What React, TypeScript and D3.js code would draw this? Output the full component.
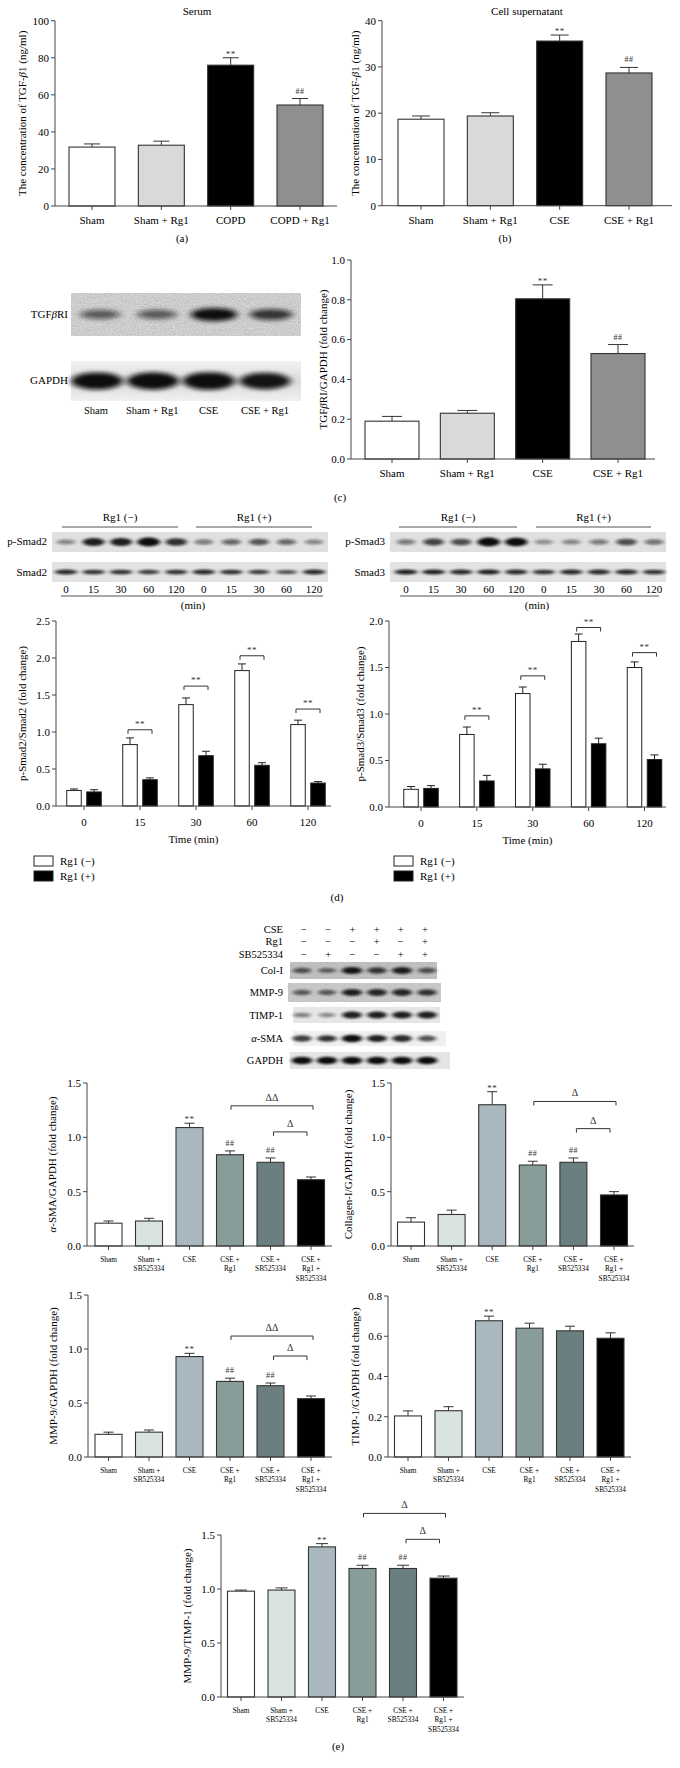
import React from "react";
import * as d3 from "d3";

const FONT = "'Liberation Serif','Times New Roman',Times,serif";
const INK = "#333";

// ---------- Panel (a) Serum ----------
const groupsA = ["Sham", "Sham + Rg1", "COPD", "COPD + Rg1"];
const serumMean = [31.8, 32.8, 76.0, 54.5];
const serumSem = [1.7, 2.2, 4.0, 3.5];
const serumMarks = ["", "", "**", "##"];
const ticksA = [0, 20, 40, 60, 80, 100];

// ---------- Panel (b) Cell supernatant ----------
const groupsB = ["Sham", "Sham + Rg1", "CSE", "CSE + Rg1"];
const supMean = [18.7, 19.4, 35.6, 28.7];
const supSem = [0.7, 0.7, 1.3, 1.2];
const supMarks = ["", "", "**", "##"];
const ticksB = [0, 10, 20, 30, 40];

// ---------- Panel (c) TGFbRI ----------
const groupsC = ["Sham", "Sham + Rg1", "CSE", "CSE + Rg1"];
const tgfMean = [0.19, 0.23, 0.805, 0.53];
const tgfSem = [0.024, 0.014, 0.07, 0.045];
const tgfMarks = ["", "", "**", "##"];
const ticksC = [0, 0.2, 0.4, 0.6, 0.8, 1.0];
const tgfBand = [0.5, 0.5, 1.0, 0.72];
const gapdhBandC = [0.95, 0.97, 1.0, 0.9];

// ---------- Panel (d) ----------
const times = ["0", "15", "30", "60", "120"];
const smad2Minus = [0.21, 0.83, 1.37, 1.83, 1.1];
const smad2MinusSem = [0.02, 0.09, 0.09, 0.09, 0.06];
const smad2Plus = [0.19, 0.355, 0.68, 0.55, 0.31];
const smad2PlusSem = [0.03, 0.025, 0.06, 0.035, 0.02];
const smad2Brackets = [null, 1.03, 1.62, 2.03, 1.31];
const ticksD2 = [0, 0.5, 1.0, 1.5, 2.0, 2.5];
const smad3Minus = [0.19, 0.78, 1.22, 1.78, 1.5];
const smad3MinusSem = [0.03, 0.08, 0.07, 0.08, 0.06];
const smad3Plus = [0.2, 0.28, 0.41, 0.68, 0.51];
const smad3PlusSem = [0.03, 0.06, 0.05, 0.06, 0.05];
const smad3Brackets = [null, 0.98, 1.41, 1.93, 1.66];
const ticksD3 = [0, 0.5, 1.0, 1.5, 2.0];
const laneTimes = ["0", "15", "30", "60", "120", "0", "15", "30", "60", "120"];
const pSmad2Band = [0.3, 0.85, 0.85, 1.0, 0.75, 0.35, 0.45, 0.55, 0.45, 0.3];
const smad2Band = [0.8, 0.75, 0.75, 0.7, 0.75, 0.8, 0.75, 0.7, 0.6, 0.8];
const pSmad3Band = [0.35, 0.65, 0.6, 1.0, 0.95, 0.25, 0.3, 0.35, 0.6, 0.4];
const smad3Band = [0.85, 0.85, 0.8, 0.85, 0.8, 0.75, 0.8, 0.8, 0.8, 0.75];
const legendD = ["Rg1 (\u2212)", "Rg1 (+)"];

// ---------- Panel (e) ----------
const groupsE = [
  ["Sham"],
  ["Sham +", "SB525334"],
  ["CSE"],
  ["CSE +", "Rg1"],
  ["CSE +", "SB525334"],
  ["CSE +", "Rg1 +", "SB525334"],
];
const headerRows = ["CSE", "Rg1", "SB525334"];
const headerSigns = [
  ["\u2212", "\u2212", "+", "+", "+", "+"],
  ["\u2212", "\u2212", "\u2212", "+", "\u2212", "+"],
  ["\u2212", "+", "\u2212", "\u2212", "+", "+"],
];
const blotRowsE = ["Col-I", "MMP-9", "TIMP-1", "\u03b1-SMA", "GAPDH"];
const colIBand = [0.55, 0.45, 0.9, 0.7, 0.85, 0.55];
const mmp9Band = [0.5, 0.5, 0.85, 0.8, 0.8, 0.72];
const timp1Band = [0.35, 0.3, 0.85, 0.85, 0.85, 0.85];
const smaBand = [0.7, 0.75, 0.95, 0.85, 0.8, 0.6];
const gapdhBandE = [0.95, 0.95, 0.95, 0.95, 0.95, 0.95];

const smaMean = [0.21, 0.23, 1.09, 0.84, 0.77, 0.61];
const smaSem = [0.02, 0.025, 0.04, 0.035, 0.04, 0.025];
const smaMarks = ["", "", "**", "##", "##", ""];
const smaBrackets = [
  { from: 3, to: 5, level: 1.29, label: "\u0394\u0394" },
  { from: 4, to: 5, level: 1.05, label: "\u0394" },
];
const colMean = [0.22, 0.29, 1.3, 0.745, 0.77, 0.47];
const colSem = [0.04, 0.04, 0.12, 0.035, 0.04, 0.03];
const colMarks = ["", "", "**", "##", "##", ""];
const colBrackets = [
  { from: 3, to: 5, level: 1.33, label: "\u0394" },
  { from: 4, to: 5, level: 1.08, label: "\u0394" },
];
const mmp9Mean = [0.21, 0.23, 0.93, 0.7, 0.66, 0.54];
const mmp9Sem = [0.02, 0.02, 0.03, 0.03, 0.025, 0.025];
const mmp9Marks = ["", "", "**", "##", "##", ""];
const mmp9Brackets = [
  { from: 3, to: 5, level: 1.12, label: "\u0394\u0394" },
  { from: 4, to: 5, level: 0.935, label: "\u0394" },
];
const timpMean = [0.204, 0.23, 0.677, 0.64, 0.627, 0.59];
const timpSem = [0.025, 0.02, 0.023, 0.025, 0.023, 0.027];
const timpMarks = ["", "", "**", "", "", ""];
const ratioMean = [0.98, 0.99, 1.39, 1.19, 1.19, 1.1];
const ratioSem = [0.01, 0.02, 0.03, 0.03, 0.03, 0.02];
const ratioMarks = ["", "", "**", "##", "##", ""];
const ratioBrackets = [
  { from: 3, to: 5, level: 1.7, label: "\u0394" },
  { from: 4, to: 5, level: 1.46, label: "\u0394" },
];
const ticksE15 = [0, 0.5, 1.0, 1.5];
const ticksE08 = [0, 0.2, 0.4, 0.6, 0.8];

const colorsABC = ["#ffffff", "#d9d9d9", "#000000", "#8f8f8f"];
const colorsE = ["#ffffff", "#d9e3e2", "#a9b8be", "#889c9a", "#6b7f81", "#000000"];

const fmt1 = d3.format(".1f");

function Mark({ x, y, m }: { x: number; y: number; m: string }) {
  if (!m) return null;
  const star = m.includes("*");
  return (
    <text x={x} y={star ? y - 1 : y - 5} textAnchor="middle" fontSize={star ? 9 : 8} fill="#333" letterSpacing={0.5}>
      {m}
    </text>
  );
}

function BarPanel({ c }: { c: any }) {
  const n = c.means.length;
  const y = d3.scaleLinear().domain([0, c.yMax]).range([c.yBot, c.yTop]);
  const x = d3.scalePoint<number>().domain(d3.range(n)).range([c.c0, c.c1]);
  const fmt = c.fmt || ((v: number) => String(v));
  const midY = (c.yBot + c.yTop) / 2;
  return (
    <g>
      {c.title && (
        <text x={c.titleX} y={c.titleY} textAnchor="middle" fontSize={11}>
          {c.title}
        </text>
      )}
      <text transform={`translate(${c.yLabelX},${midY}) rotate(-90)`} textAnchor="middle" fontSize={11} dy="0.35em">
        {c.yLabel}
      </text>
      {c.means.map((m: number, i: number) => {
        const cx = x(i)!;
        const top = y(m);
        const et = y(m + c.sems[i]);
        return (
          <g key={i}>
            <line x1={cx} x2={cx} y1={top} y2={et} stroke={INK} strokeWidth={1} />
            <line x1={cx - c.capW / 2} x2={cx + c.capW / 2} y1={et} y2={et} stroke={INK} strokeWidth={1} />
            <rect x={cx - c.bw / 2} y={top} width={c.bw} height={c.yBot - top} fill={c.colors[i]} stroke={INK} strokeWidth={1.1} />
            <Mark x={cx} y={et} m={c.marks[i]} />
          </g>
        );
      })}
      {(c.brackets || []).map((b: any, k: number) => {
        const short = b.to - b.from === 1;
        const xa = x(b.from)! + (short ? 3 : 1);
        const xb = x(b.to)! + (short ? -4 : 2);
        const yy = y(b.level);
        return (
          <g key={"b" + k}>
            <path d={`M${xa},${yy + 4}V${yy}H${xb}V${yy + 4}`} fill="none" stroke={INK} strokeWidth={1} />
            <text x={(xa + xb) / 2} y={yy - 5} textAnchor="middle" fontSize={10} fill="#333">
              {b.label}
            </text>
          </g>
        );
      })}
      {/* axes */}
      <line x1={c.x0} x2={c.x0} y1={c.yBot} y2={c.yTop} stroke="#444" strokeWidth={1} />
      <line x1={c.x0} x2={c.x1} y1={c.yBot} y2={c.yBot} stroke="#444" strokeWidth={1} />
      {c.ticks.map((t: number) => (
        <g key={t}>
          <line x1={c.x0 - 4} x2={c.x0} y1={y(t)} y2={y(t)} stroke="#444" strokeWidth={1} />
          <text x={c.x0 - 6} y={y(t)} dy="0.35em" textAnchor="end" fontSize={11}>
            {fmt(t)}
          </text>
        </g>
      ))}
      {c.labels.map((ls: string[], i: number) => (
        <g key={"l" + i}>
          <line x1={x(i)} x2={x(i)} y1={c.yBot} y2={c.yBot + 4} stroke="#444" strokeWidth={1} />
          {ls.map((s, j) => (
            <text key={j} x={x(i)} y={c.yBot + c.labelDy + j * c.lineH} textAnchor="middle" fontSize={c.labelFont}>
              {s}
            </text>
          ))}
        </g>
      ))}
    </g>
  );
}

function GroupPanel({ c }: { c: any }) {
  const y = d3.scaleLinear().domain([0, c.yMax]).range([c.yBot, c.yTop]);
  const x = d3.scalePoint<number>().domain(d3.range(c.groups.length)).range([c.c0, c.c1]);
  const midY = (c.yBot + c.yTop) / 2;
  const off = 10;
  const bw = 14.5;
  const bar = (cx: number, m: number, s: number, fill: string, key: string) => {
    const top = y(m);
    const et = y(m + s);
    return (
      <g key={key}>
        <line x1={cx} x2={cx} y1={top} y2={et} stroke="#222" />
        <line x1={cx - 4} x2={cx + 4} y1={et} y2={et} stroke="#222" />
        <rect x={cx - bw / 2} y={top} width={bw} height={c.yBot - top} fill={fill} stroke="#222" strokeWidth={1} />
      </g>
    );
  };
  return (
    <g>
      <text transform={`translate(${c.yLabelX},${midY}) rotate(-90)`} textAnchor="middle" fontSize={11} dy="0.35em">
        {c.yLabel}
      </text>
      {c.groups.map((g: string, i: number) => {
        const gc = x(i)!;
        const lv = c.brackets[i];
        return (
          <g key={i}>
            {bar(gc - off, c.minus[i], c.minusSem[i], "#fff", "w")}
            {bar(gc + off, c.plus[i], c.plusSem[i], "#000", "k")}
            {lv != null && (
              <g>
                <path d={`M${gc - off - 2},${y(lv) + 4}V${y(lv)}H${gc + off + 2}V${y(lv) + 4}`} fill="none" stroke="#333" />
                <text x={gc} y={y(lv) - 3} textAnchor="middle" fontSize={9} fill="#333" letterSpacing={0.5}>
                  **
                </text>
              </g>
            )}
            <line x1={gc} x2={gc} y1={c.yBot} y2={c.yBot + 4} stroke="#444" />
            <text x={gc} y={c.yBot + 19.5} textAnchor="middle" fontSize={11}>
              {g}
            </text>
          </g>
        );
      })}
      <line x1={c.x0} x2={c.x0} y1={c.yBot} y2={c.yTop} stroke="#444" />
      <line x1={c.x0} x2={c.x1} y1={c.yBot} y2={c.yBot} stroke="#444" />
      {c.ticks.map((t: number) => (
        <g key={t}>
          <line x1={c.x0 - 4} x2={c.x0} y1={y(t)} y2={y(t)} stroke="#444" />
          <text x={c.x0 - 6} y={y(t)} dy="0.35em" textAnchor="end" fontSize={11}>
            {fmt1(t)}
          </text>
        </g>
      ))}
      <text x={(c.x0 + c.x1) / 2} y={c.yBot + 37} textAnchor="middle" fontSize={11}>
        Time (min)
      </text>
      {legendD.map((s, k) => (
        <g key={s}>
          <rect x={c.legX} y={856 + k * 15} width={19} height={10} fill={k === 0 ? "#fff" : "#000"} stroke="#222" />
          <text x={c.legX + 26} y={864.5 + k * 15} fontSize={11}>
            {s}
          </text>
        </g>
      ))}
    </g>
  );
}

function Strip({ x0, x1, y0, y1, bands, l0, l1, bg, grain, bw, bh, blur }: any) {
  const lx = d3.scalePoint<number>().domain(d3.range(bands.length)).range([l0, l1]);
  const cy = (y0 + y1) / 2;
  return (
    <g>
      <rect x={x0} y={y0} width={x1 - x0} height={y1 - y0} fill={bg} />
      {grain && <rect x={x0} y={y0} width={x1 - x0} height={y1 - y0} filter="url(#grain)" opacity={grain} />}
      <g filter={`url(#${blur || "band"})`}>
        {bands.map((v: number, i: number) => (
          <ellipse
            key={i}
            cx={lx(i)}
            cy={cy}
            rx={(bw / 2) * (0.75 + 0.3 * v)}
            ry={(bh / 2) * (0.45 + 0.65 * v)}
            fill="#111"
            opacity={Math.min(1, 0.2 + 0.85 * v)}
          />
        ))}
      </g>
    </g>
  );
}

const eRowLayout = [
  { x0: 290, x1: 437, y0: 962, y1: 979, bg: "#c4c4c4", grain: 0.7 },
  { x0: 288, x1: 441, y0: 983, y1: 1002, bg: "#cdcdcd", grain: 0.6 },
  { x0: 293, x1: 440, y0: 1007, y1: 1023, bg: "#e8e8e8", grain: 0.15 },
  { x0: 293, x1: 446, y0: 1031, y1: 1046, bg: "#f0f0f0", grain: 0 },
  { x0: 290, x1: 450, y0: 1052, y1: 1069, bg: "#e6e6e6", grain: 0.1 },
];
const eBands = [colIBand, mmp9Band, timp1Band, smaBand, gapdhBandE];

export default function App() {
  const cfgA = {
    x0: 55, x1: 337, yTop: 20.7, yBot: 206, yMax: 100, ticks: ticksA, c0: 92, c1: 300, bw: 46, capW: 16,
    colors: colorsABC, means: serumMean, sems: serumSem, marks: serumMarks, labels: groupsA.map((s) => [s]),
    labelDy: 18, lineH: 10, labelFont: 11, title: "Serum", titleX: 197, titleY: 15, yLabelX: 22,
    yLabel: (<>The concentration of TGF-<tspan fontStyle="italic">β</tspan>1 (ng/ml)</>),
  };
  const cfgB = {
    x0: 382, x1: 672, yTop: 20.7, yBot: 205.7, yMax: 40, ticks: ticksB, c0: 421, c1: 629, bw: 46, capW: 18,
    colors: colorsABC, means: supMean, sems: supSem, marks: supMarks, labels: groupsB.map((s) => [s]),
    labelDy: 18, lineH: 10, labelFont: 11, title: "Cell supernatant", titleX: 527, titleY: 15, yLabelX: 355,
    yLabel: (<>The concentration of TGF-<tspan fontStyle="italic">β</tspan>1 (ng/ml)</>),
  };
  const cfgC = {
    x0: 351, x1: 655, yTop: 260, yBot: 459, yMax: 1.0, ticks: ticksC, fmt: fmt1, c0: 392, c1: 618, bw: 54, capW: 20,
    colors: colorsABC, means: tgfMean, sems: tgfSem, marks: tgfMarks, labels: groupsC.map((s) => [s]),
    labelDy: 18, lineH: 10, labelFont: 11, yLabelX: 323,
    yLabel: (<>TGF<tspan fontStyle="italic">β</tspan>RI/GAPDH (fold change)</>),
  };
  const eCommon = { labels: groupsE, labelDy: 15.5, lineH: 9.5, labelFont: 7.3, colors: colorsE, bw: 27, capW: 10, fmt: fmt1 };
  const cfgSma = { ...eCommon, x0: 87, x1: 332, yTop: 1083, yBot: 1246, yMax: 1.5, ticks: ticksE15, c0: 108.5, c1: 311,
    means: smaMean, sems: smaSem, marks: smaMarks, brackets: smaBrackets, yLabelX: 52, yLabel: (<><tspan fontStyle="italic">α</tspan>-SMA/GAPDH (fold change)</>) };
  const cfgCol = { ...eCommon, x0: 391, x1: 634, yTop: 1083, yBot: 1246, yMax: 1.5, ticks: ticksE15, c0: 411, c1: 614,
    means: colMean, sems: colSem, marks: colMarks, brackets: colBrackets, yLabelX: 348, yLabel: "Collagen-I/GAPDH (fold change)" };
  const cfgMmp = { ...eCommon, x0: 88, x1: 332, yTop: 1295, yBot: 1457, yMax: 1.5, ticks: ticksE15, c0: 108.5, c1: 311,
    means: mmp9Mean, sems: mmp9Sem, marks: mmp9Marks, brackets: mmp9Brackets, yLabelX: 53, yLabel: "MMP-9/GAPDH (fold change)" };
  const cfgTimp = { ...eCommon, x0: 388, x1: 631, yTop: 1296, yBot: 1457, yMax: 0.8, ticks: ticksE08, c0: 408, c1: 610.5,
    means: timpMean, sems: timpSem, marks: timpMarks, brackets: [], yLabelX: 355, yLabel: "TIMP-1/GAPDH (fold change)" };
  const cfgRatio = { ...eCommon, x0: 221, x1: 464, yTop: 1535, yBot: 1697, yMax: 1.5, ticks: ticksE15, c0: 241, c1: 443.5, capW: 12,
    means: ratioMean, sems: ratioSem, marks: ratioMarks, brackets: ratioBrackets, yLabelX: 187, yLabel: "MMP-9/TIMP-1 (fold change)" };

  const cfgD2 = { x0: 56, x1: 331, yTop: 621, yBot: 806, yMax: 2.5, ticks: ticksD2, c0: 84, c1: 308, groups: times,
    minus: smad2Minus, minusSem: smad2MinusSem, plus: smad2Plus, plusSem: smad2PlusSem, brackets: smad2Brackets,
    yLabelX: 22, yLabel: "p-Smad2/Smad2 (fold change)", legX: 34 };
  const cfgD3 = { x0: 389, x1: 666, yTop: 621, yBot: 807, yMax: 2.0, ticks: ticksD3, c0: 421, c1: 644.5, groups: times,
    minus: smad3Minus, minusSem: smad3MinusSem, plus: smad3Plus, plusSem: smad3PlusSem, brackets: smad3Brackets,
    yLabelX: 360, yLabel: "p-Smad3/Smad3 (fold change)", legX: 394 };

  const laneC = d3.scalePoint<number>().domain(d3.range(groupsC.length)).range([96, 265]);
  const laneD2 = d3.scalePoint<number>().domain(d3.range(laneTimes.length)).range([66, 314]);
  const laneD3 = d3.scalePoint<number>().domain(d3.range(laneTimes.length)).range([406, 654]);
  const laneE = d3.scalePoint<number>().domain(d3.range(6)).range([304, 425]);

  return (
    <svg width={680} height={1768} viewBox="0 0 680 1768" fontFamily={FONT}
      style={{ position: "absolute", left: 0, top: 0, background: "#fff" }}>
      <defs>
        <filter id="grain" x="0" y="0" width="1" height="1">
          <feTurbulence type="fractalNoise" baseFrequency="0.75" numOctaves={2} seed={7} />
          <feColorMatrix type="matrix" values="0 0 0 0 0.35  0 0 0 0 0.35  0 0 0 0 0.35  1.6 0 0 0 -0.6" />
        </filter>
        <filter id="band" x="-50%" y="-150%" width="200%" height="400%">
          <feGaussianBlur stdDeviation="2 1.1" />
        </filter>
        <filter id="bandBig" x="-50%" y="-150%" width="200%" height="400%">
          <feGaussianBlur stdDeviation="3.5 2.2" />
        </filter>
        <linearGradient id="gapdhBg" x1="0" y1="0" x2="0" y2="1">
          <stop offset="0" stopColor="#f2f2f2" />
          <stop offset="0.5" stopColor="#dcdcdc" />
          <stop offset="1" stopColor="#f0f0f0" />
        </linearGradient>
      </defs>
      <rect width={680} height={1768} fill="#fff" />

      {/* (a) and (b) */}
      <BarPanel c={cfgA} />
      <BarPanel c={cfgB} />
      <text x={182} y={242} textAnchor="middle" fontSize={11}>(a)</text>
      <text x={505} y={242} textAnchor="middle" fontSize={11}>(b)</text>

      {/* (c) blot */}
      <Strip x0={71} x1={301} y0={293} y1={336} bands={tgfBand} l0={100} l1={271} bg="#d6d6d6" grain={0.8} bw={44} bh={12} blur="bandBig" />
      <Strip x0={71} x1={301} y0={361} y1={401} bands={gapdhBandC} l0={97} l1={265} bg="url(#gapdhBg)" grain={0} bw={50} bh={16} blur="bandBig" />
      <text x={68} y={318} textAnchor="end" fontSize={11}>TGF<tspan fontStyle="italic">β</tspan>RI</text>
      <text x={68} y={384} textAnchor="end" fontSize={11}>GAPDH</text>
      {groupsC.map((g, i) => (
        <text key={g} x={laneC(i)} y={414} textAnchor="middle" fontSize={10.5}>{g}</text>
      ))}
      <BarPanel c={cfgC} />
      <text x={340} y={501} textAnchor="middle" fontSize={11}>(c)</text>

      {/* (d) blots */}
      {[
        { x0: 52, x1: 328, lane: laneD2, l0: 66, l1: 314, p: pSmad2Band, t: smad2Band, pl: "p-Smad2", tl: "Smad2",
          lines: [[62, 178], [196, 312]], bottom: [61, 323], minX: 193 },
        { x0: 390, x1: 666, lane: laneD3, l0: 406, l1: 654, p: pSmad3Band, t: smad3Band, pl: "p-Smad3", tl: "Smad3",
          lines: [[399, 517], [536, 651]], bottom: [400, 659], minX: 537 },
      ].map((b, k) => (
        <g key={k}>
          {b.lines.map((ln, j) => (
            <g key={j}>
              <text x={(ln[0] + ln[1]) / 2} y={521} textAnchor="middle" fontSize={11}>{legendD[j]}</text>
              <line x1={ln[0]} x2={ln[1]} y1={527} y2={527} stroke="#555" />
            </g>
          ))}
          <Strip x0={b.x0} x1={b.x1} y0={532} y1={552} bands={b.p} l0={b.l0} l1={b.l1} bg="#e2e2e2" grain={0.15} bw={22} bh={8} />
          <Strip x0={b.x0} x1={b.x1} y0={562} y1={582} bands={b.t} l0={b.l0} l1={b.l1} bg="#e4e4e4" grain={0.1} bw={23} bh={5} />
          <text x={b.x0 - 5} y={545} textAnchor="end" fontSize={11}>{b.pl}</text>
          <text x={b.x0 - 5} y={576} textAnchor="end" fontSize={11}>{b.tl}</text>
          {laneTimes.map((t, i) => (
            <text key={i} x={b.lane(i)} y={593} textAnchor="middle" fontSize={11}>{t}</text>
          ))}
          <line x1={b.bottom[0]} x2={b.bottom[1]} y1={596} y2={596} stroke="#555" />
          <text x={b.minX} y={609} textAnchor="middle" fontSize={11}>(min)</text>
        </g>
      ))}
      <GroupPanel c={cfgD2} />
      <GroupPanel c={cfgD3} />
      <text x={337} y={901} textAnchor="middle" fontSize={11}>(d)</text>

      {/* (e) blot */}
      {headerRows.map((r, j) => (
        <g key={r}>
          <text x={283} y={932.5 + j * 12.5} textAnchor="end" fontSize={10.5}>{r}</text>
          {headerSigns[j].map((s, i) => (
            <text key={i} x={laneE(i)} y={932.5 + j * 12.5} textAnchor="middle" fontSize={10.5}>{s}</text>
          ))}
        </g>
      ))}
      {eRowLayout.map((r, k) => (
        <g key={k}>
          <Strip x0={r.x0} x1={r.x1} y0={r.y0} y1={r.y1} bands={eBands[k]} l0={302} l1={427} bg={r.bg} grain={r.grain} bw={20} bh={7} />
          <text x={283} y={(r.y0 + r.y1) / 2 + 3.5} textAnchor="end" fontSize={10.5}>
            {k === 3 ? (<><tspan fontStyle="italic">α</tspan>-SMA</>) : blotRowsE[k]}
          </text>
        </g>
      ))}

      <BarPanel c={cfgSma} />
      <BarPanel c={cfgCol} />
      <BarPanel c={cfgMmp} />
      <BarPanel c={cfgTimp} />
      <BarPanel c={cfgRatio} />
      <text x={338} y={1750} textAnchor="middle" fontSize={11}>(e)</text>
    </svg>
  );
}
